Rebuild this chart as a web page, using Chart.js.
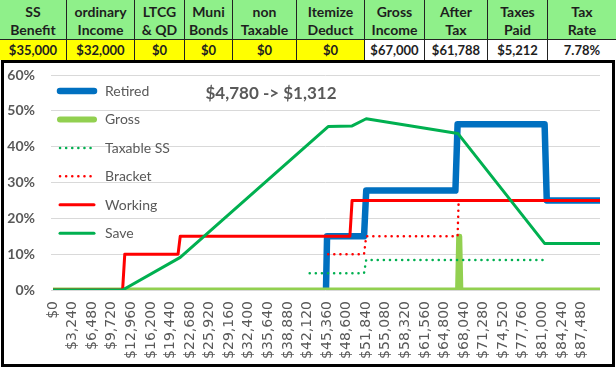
<!DOCTYPE html>
<html><head><meta charset="utf-8">
<script src="https://cdn.jsdelivr.net/npm/chart.js@4.4.0/dist/chart.umd.min.js"></script>
<style>
body{margin:0;width:616px;height:370px;position:relative;overflow:hidden;background:#fff;font-family:Lato,sans-serif}
#tbl{position:absolute;left:0;top:0;width:616px;height:60px}
.cell{position:absolute;box-sizing:border-box;display:flex;align-items:center;justify-content:center;text-align:center;font-weight:bold;color:#1e1e1e;white-space:pre}
.h{top:0;height:40px;background:#8ff08a;font-size:14px;line-height:18px;border-right:1px solid #222;border-bottom:1px solid #222;padding-top:2px}
.d{top:40px;height:20px;font-size:13px;border-right:1px solid #222;background:#fff}
.d.y{background:#ffff00}
#frame{position:absolute;left:1px;top:60px;width:614px;height:307px;box-sizing:border-box;border:3px solid #000;background:#fff}
canvas{position:absolute;left:0;top:0}
</style></head><body>
<div id="tbl"></div><div id="frame"></div>
<canvas id="c" width="616" height="370"></canvas>
<script>
// ---- table data ----
const headerLabels = ["SS\nBenefit","ordinary\nIncome","LTCG\n& QD","Muni\nBonds","non\nTaxable","Itemize\nDeduct","Gross\nIncome","After\nTax","Taxes\nPaid","Tax\nRate"];
const rowValues = ["$35,000","$32,000","$0","$0","$0","$0","$67,000","$61,788","$5,212","7.78%"];
const inputColumns = 6;

// ---- chart data ----
const xTickValues = [0,3240,6480,9720,12960,16200,19440,22680,25920,29160,32400,35640,38880,42120,45360,48600,51840,55080,58320,61560,64800,68040,71280,74520,77760,81000,84240,87480];
const yTickValues = [0,10,20,30,40,50,60];
const seriesNames = ["Retired","Gross","Taxable SS","Bracket","Working","Save"];

const retiredX = [45180,45360,51480,51840,66600,66960,81360,81720,90530];
const retiredY = [0,15,15,27.75,27.75,46.25,46.25,25,25];
const grossX = [0,66960,67140,67320,67500,90530];
const grossY = [0,0,15,15,0,0];
const taxableSSX = [42480,51480,51840,81720];
const taxableSSY = [4.7,4.7,8.4,8.4];
const bracketX = [45540,51480,51840,66960,67140];
const bracketY = [10,10,15,15,25];
const workingX = [0,11520,11880,20700,21060,49140,49500,90530];
const workingY = [0,0,10,10,15,15,25,25];
const saveX = [0,11520,21060,45540,49500,51840,67000,81360,90530];
const saveY = [0,0,9.1,45.6,45.8,47.8,43.7,13,13];
const annotationText = "$4,780 -> $1,312";

// ---- build table ----
const colEdges = [0,67,135,185,233,297,365,425,488,548,617];
const tbl = document.getElementById('tbl');
headerLabels.forEach((h,i)=>{
  const w = colEdges[i+1]-colEdges[i];
  const a = document.createElement('div');
  a.className='cell h'; a.style.left=colEdges[i]+'px'; a.style.width=w+'px'; a.textContent=h;
  tbl.appendChild(a);
  const b = document.createElement('div');
  b.className='cell d'+(i<inputColumns?' y':''); b.style.left=colEdges[i]+'px'; b.style.width=w+'px'; b.textContent=rowValues[i];
  tbl.appendChild(b);
});

// ---- chart ----
const pts = (xs,ys)=>xs.map((x,i)=>({x:x,y:ys[i]}));
const styles = [
  {c:'#0070C0',w:6.5,lw:6.5,dash:[]},
  {c:'#92D050',w:5,lw:6,dash:[]},
  {c:'#00B050',w:2.5,lw:2.5,dash:[0.1,6]},
  {c:'#FF0000',w:2.5,lw:2.5,dash:[0.1,6]},
  {c:'#FF0000',w:3,lw:3,dash:[]},
  {c:'#00B050',w:3,lw:3,dash:[]}
];
const seriesData = [pts(retiredX,retiredY),pts(grossX,grossY),pts(taxableSSX,taxableSSY),pts(bracketX,bracketY),pts(workingX,workingY),pts(saveX,saveY)];
const datasets = seriesNames.map((n,i)=>({
  label:n, data:seriesData[i], borderColor:styles[i].c, backgroundColor:styles[i].c,
  borderWidth:styles[i].w, borderDash:styles[i].dash, borderCapStyle:styles[i].dash.length?'round':'butt',
  borderJoinStyle:'round', pointRadius:0, tension:0, fill:false, order:6-i
}));

const overlay = {
  id:'overlay',
  afterDraw(chart){
    const ctx = chart.ctx;
    seriesNames.forEach((n,i)=>{
      const y = 91 + i*28.45;
      ctx.save();
      ctx.strokeStyle = styles[i].c; ctx.lineWidth = styles[i].lw;
      ctx.lineCap = 'round'; ctx.setLineDash(styles[i].dash);
      ctx.beginPath(); ctx.moveTo(60,y); ctx.lineTo(94,y); ctx.stroke();
      ctx.restore();
      ctx.save();
      ctx.fillStyle='#595959'; ctx.font='14px Lato'; ctx.textBaseline='middle'; ctx.textAlign='left';
      ctx.fillText(n,105,y+0.5);
      ctx.restore();
    });
    ctx.save();
    ctx.fillStyle='#595959'; ctx.font='bold 17px Lato'; ctx.textAlign='center'; ctx.textBaseline='middle';
    ctx.fillText(annotationText,271,94);
    ctx.restore();
  }
};

new Chart(document.getElementById('c'),{
  type:'line',
  data:{datasets:datasets},
  options:{
    responsive:false, animation:false, devicePixelRatio:1,
    layout:{padding:{left:0,right:16,top:75,bottom:0}},
    plugins:{legend:{display:false},tooltip:{enabled:false}},
    scales:{
      x:{type:'linear',min:-330,max:90530,
        afterBuildTicks(s){ s.ticks = xTickValues.map(v=>({value:v})); },
        afterFit(s){ s.height = 80; },
        grid:{display:false,drawTicks:false}, border:{display:false},
        ticks:{autoSkip:false,maxRotation:90,minRotation:90,padding:11,color:'#595959',
          font:{family:'DejaVu Sans',size:14},
          callback:(v)=>'$'+Number(v).toLocaleString('en-US')}
      },
      y:{min:0,max:60,
        afterBuildTicks(s){ s.ticks = yTickValues.map(v=>({value:v})); },
        afterFit(s){ s.width = 51; },
        grid:{color:'#D9D9D9',lineWidth:1,drawTicks:false}, border:{display:false},
        ticks:{padding:16,color:'#595959',font:{family:'Lato',size:14,weight:'bold'},callback:(v)=>v+'%'}
      }
    }
  },
  plugins:[overlay]
});
</script>
</body></html>
